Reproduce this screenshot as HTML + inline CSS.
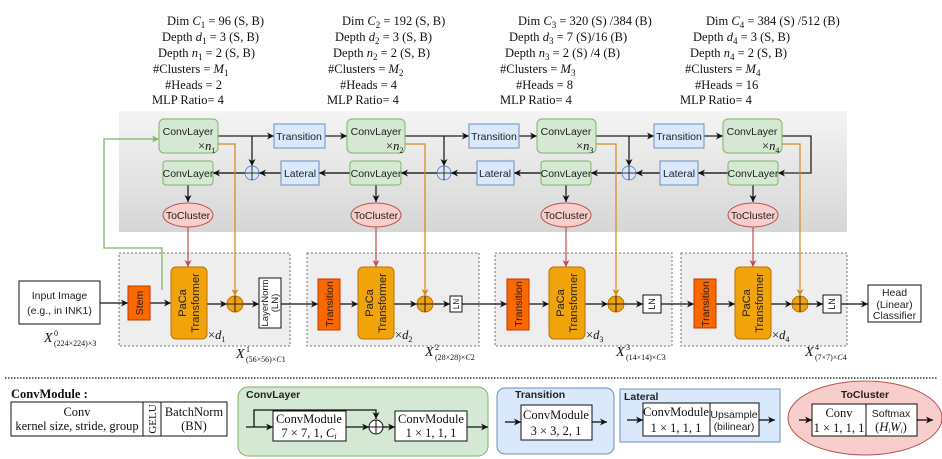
<!DOCTYPE html>
<html><head><meta charset="utf-8"><style>
html,body{margin:0;padding:0;background:#fff;}
svg{display:block;}
.s{font-family:"Liberation Sans",sans-serif;font-size:10.5px;fill:#222;}
.r{font-family:"Liberation Serif",serif;font-size:12.5px;fill:#111;}
.i{font-style:italic;}
</style></head><body>
<svg width="942" height="459" viewBox="0 0 942 459" xmlns="http://www.w3.org/2000/svg">
<defs>
<marker id="a" markerWidth="8" markerHeight="8" refX="7" refY="4" orient="auto" markerUnits="userSpaceOnUse"><path d="M0,0.5 L7,4 L0,7.5 L2,4z" fill="#111"/></marker>
<marker id="ao" markerWidth="8" markerHeight="8" refX="7" refY="4" orient="auto" markerUnits="userSpaceOnUse"><path d="M0,0.5 L7,4 L0,7.5 L2,4z" fill="#d08a1a"/></marker>
<marker id="ar" markerWidth="8" markerHeight="8" refX="7" refY="4" orient="auto" markerUnits="userSpaceOnUse"><path d="M0,0.5 L7,4 L0,7.5 L2,4z" fill="#c05050"/></marker>
<marker id="ag" markerWidth="8" markerHeight="8" refX="7" refY="4" orient="auto" markerUnits="userSpaceOnUse"><path d="M0,0.5 L7,4 L0,7.5 L2,4z" fill="#82b366"/></marker>
<linearGradient id="g" x1="0" y1="0" x2="0" y2="1"><stop offset="0" stop-color="#f4f4f4"/><stop offset="1" stop-color="#d6d6d6"/></linearGradient>
</defs>

<!-- top text -->
<g class="r">
<text x="167" y="25">Dim <tspan class="i">C</tspan><tspan font-size="9" dy="3">1</tspan><tspan dy="-3"> = 96 (S, B)</tspan></text>
<text x="162" y="41">Depth <tspan class="i">d</tspan><tspan font-size="9" dy="3">1</tspan><tspan dy="-3"> = 3 (S, B)</tspan></text>
<text x="158" y="57">Depth <tspan class="i">n</tspan><tspan font-size="9" dy="3">1</tspan><tspan dy="-3"> = 2 (S, B)</tspan></text>
<text x="153" y="73">#Clusters = <tspan class="i">M</tspan><tspan font-size="9" dy="3">1</tspan></text>
<text x="165" y="89">#Heads = 2</text>
<text x="152" y="104">MLP Ratio= 4</text>

<text x="342" y="25">Dim <tspan class="i">C</tspan><tspan font-size="9" dy="3">2</tspan><tspan dy="-3"> = 192 (S, B)</tspan></text>
<text x="335" y="41">Depth <tspan class="i">d</tspan><tspan font-size="9" dy="3">2</tspan><tspan dy="-3"> = 3 (S, B)</tspan></text>
<text x="333" y="57">Depth <tspan class="i">n</tspan><tspan font-size="9" dy="3">2</tspan><tspan dy="-3"> = 2 (S, B)</tspan></text>
<text x="328" y="73">#Clusters = <tspan class="i">M</tspan><tspan font-size="9" dy="3">2</tspan></text>
<text x="340" y="89">#Heads = 4</text>
<text x="327" y="104">MLP Ratio= 4</text>

<text x="518" y="25">Dim <tspan class="i">C</tspan><tspan font-size="9" dy="3">3</tspan><tspan dy="-3"> = 320 (S) /384 (B)</tspan></text>
<text x="509" y="41">Depth <tspan class="i">d</tspan><tspan font-size="9" dy="3">3</tspan><tspan dy="-3"> = 7 (S)/16 (B)</tspan></text>
<text x="505" y="57">Depth <tspan class="i">n</tspan><tspan font-size="9" dy="3">3</tspan><tspan dy="-3"> = 2 (S) /4 (B)</tspan></text>
<text x="500" y="73">#Clusters = <tspan class="i">M</tspan><tspan font-size="9" dy="3">3</tspan></text>
<text x="516" y="89">#Heads = 8</text>
<text x="500" y="104">MLP Ratio= 4</text>

<text x="706" y="25">Dim <tspan class="i">C</tspan><tspan font-size="9" dy="3">4</tspan><tspan dy="-3"> = 384 (S) /512 (B)</tspan></text>
<text x="693" y="41">Depth <tspan class="i">d</tspan><tspan font-size="9" dy="3">4</tspan><tspan dy="-3"> = 3 (S, B)</tspan></text>
<text x="690" y="57">Depth <tspan class="i">n</tspan><tspan font-size="9" dy="3">4</tspan><tspan dy="-3"> = 2 (S, B)</tspan></text>
<text x="685" y="73">#Clusters = <tspan class="i">M</tspan><tspan font-size="9" dy="3">4</tspan></text>
<text x="695" y="89">#Heads = 16</text>
<text x="680" y="104">MLP Ratio= 4</text>
</g>

<!-- gray band -->
<rect x="119" y="111" width="728" height="121" fill="url(#g)"/>

<!-- bottom dashed stage boxes -->
<g fill="#eeeeee" stroke="#777" stroke-dasharray="2,2" stroke-width="1">
<rect x="119" y="253" width="171" height="93"/>
<rect x="307" y="253" width="172" height="93"/>
<rect x="495" y="253" width="177" height="93"/>
<rect x="681" y="253" width="166" height="93"/>
</g>

<!-- top row connectors -->
<g stroke="#222" stroke-width="1.3" fill="none">
<line x1="218" y1="136" x2="274" y2="136" marker-end="url(#a)"/>
<line x1="325" y1="136" x2="347" y2="136" marker-end="url(#a)"/>
<line x1="405" y1="136" x2="469" y2="136" marker-end="url(#a)"/>
<line x1="519" y1="136" x2="537" y2="136" marker-end="url(#a)"/>
<line x1="596" y1="136" x2="654" y2="136" marker-end="url(#a)"/>
<line x1="704" y1="136" x2="723" y2="136" marker-end="url(#a)"/>
<line x1="252" y1="136" x2="252" y2="166" marker-end="url(#a)"/>
<line x1="444" y1="136" x2="444" y2="166" marker-end="url(#a)"/>
<line x1="629" y1="136" x2="629" y2="166" marker-end="url(#a)"/>
<polyline points="782,136 811,136 811,173 778,173" marker-end="url(#a)"/>
</g>
<g stroke="#555" stroke-width="2" fill="none">
<line x1="245" y1="173" x2="213" y2="173" marker-end="url(#a)"/>
<line x1="281" y1="173" x2="259" y2="173" marker-end="url(#a)"/>
<line x1="350" y1="173" x2="319" y2="173" marker-end="url(#a)"/>
<line x1="437" y1="173" x2="401" y2="173" marker-end="url(#a)"/>
<line x1="477" y1="173" x2="451" y2="173" marker-end="url(#a)"/>
<line x1="541" y1="173" x2="514" y2="173" marker-end="url(#a)"/>
<line x1="622" y1="173" x2="591" y2="173" marker-end="url(#a)"/>
<line x1="660" y1="173" x2="636" y2="173" marker-end="url(#a)"/>
<line x1="728" y1="173" x2="698" y2="173" marker-end="url(#a)"/>
</g>
<g stroke="#222" stroke-width="1.3">
<line x1="188" y1="185" x2="188" y2="202" marker-end="url(#a)"/>
<line x1="376" y1="185" x2="376" y2="202" marker-end="url(#a)"/>
<line x1="566" y1="185" x2="566" y2="202" marker-end="url(#a)"/>
<line x1="753" y1="185" x2="753" y2="202" marker-end="url(#a)"/>
</g>

<polyline points="162,290 162,248 104,248 104,139 159,139" fill="none" stroke="#82b366" stroke-width="1.3" marker-end="url(#ag)"/>
<g stroke="#c05050" stroke-width="1.2">
<line x1="188" y1="227" x2="188" y2="267" marker-end="url(#ar)"/>
<line x1="376" y1="227" x2="376" y2="267" marker-end="url(#ar)"/>
<line x1="566" y1="227" x2="566" y2="267" marker-end="url(#ar)"/>
<line x1="753" y1="227" x2="753" y2="267" marker-end="url(#ar)"/>
</g>
<g stroke="#d08a1a" stroke-width="1.2" fill="none">
<polyline points="218,144 235,144 235,296" marker-end="url(#ao)"/>
<polyline points="405,144 425,144 425,296" marker-end="url(#ao)"/>
<polyline points="596,144 616,144 616,296" marker-end="url(#ao)"/>
<polyline points="782,144 800,144 800,296" marker-end="url(#ao)"/>
</g>

<g fill="#d5e8d4" stroke="#82b366" stroke-width="1">
<rect x="159" y="119" width="59" height="34" rx="5"/>
<rect x="347" y="119" width="58" height="34" rx="5"/>
<rect x="537" y="119" width="59" height="34" rx="5"/>
<rect x="723" y="119" width="59" height="34" rx="5"/>
<rect x="163" y="161" width="50" height="24" rx="3"/>
<rect x="350" y="161" width="51" height="24" rx="3"/>
<rect x="541" y="161" width="50" height="24" rx="3"/>
<rect x="728" y="161" width="50" height="24" rx="3"/>
</g>
<g fill="#dae8fc" stroke="#6c8ebf" stroke-width="1">
<rect x="274" y="124" width="51" height="24"/>
<rect x="469" y="124" width="50" height="24"/>
<rect x="654" y="124" width="50" height="24"/>
<rect x="281" y="161" width="38" height="24"/>
<rect x="477" y="161" width="37" height="24"/>
<rect x="660" y="161" width="38" height="24"/>
<circle cx="252" cy="173" r="7"/><circle cx="444" cy="173" r="7"/><circle cx="629" cy="173" r="7"/>
</g>
<g stroke="#333" stroke-width="1">
<path d="M245,173h14M252,166v14"/><path d="M437,173h14M444,166v14"/><path d="M622,173h14M629,166v14"/>
</g>
<g fill="#f8cecc" stroke="#b85450" stroke-width="1">
<ellipse cx="188" cy="215" rx="25" ry="12"/><ellipse cx="376" cy="215" rx="25" ry="12"/>
<ellipse cx="566" cy="215" rx="25" ry="12"/><ellipse cx="753" cy="215" rx="25" ry="12"/>
</g>
<g class="s" text-anchor="middle">
<text x="188" y="135">ConvLayer</text><text x="376" y="135">ConvLayer</text><text x="566" y="135">ConvLayer</text><text x="752" y="135">ConvLayer</text>
<text x="188" y="177">ConvLayer</text><text x="376" y="177">ConvLayer</text><text x="566" y="177">ConvLayer</text><text x="753" y="177">ConvLayer</text>
<text x="299" y="140">Transition</text><text x="494" y="140">Transition</text><text x="679" y="140">Transition</text>
<text x="300" y="177">Lateral</text><text x="495" y="177">Lateral</text><text x="679" y="177">Lateral</text>
<text x="188" y="219">ToCluster</text><text x="376" y="219">ToCluster</text><text x="566" y="219">ToCluster</text><text x="753" y="219">ToCluster</text>
</g>
<g class="r" font-size="12">
<text x="198" y="150">×<tspan class="i">n</tspan><tspan font-size="8" dy="3">1</tspan></text>
<text x="386" y="150">×<tspan class="i">n</tspan><tspan font-size="8" dy="3">2</tspan></text>
<text x="576" y="150">×<tspan class="i">n</tspan><tspan font-size="8" dy="3">3</tspan></text>
<text x="762" y="150">×<tspan class="i">n</tspan><tspan font-size="8" dy="3">4</tspan></text>
</g>

<g stroke="#111" stroke-width="1.3">
<line x1="100" y1="303" x2="128" y2="303" marker-end="url(#a)"/>
<line x1="150" y1="303" x2="171" y2="303" marker-end="url(#a)"/>
<line x1="207" y1="304" x2="227" y2="304" marker-end="url(#a)"/>
<line x1="243" y1="304" x2="259" y2="304" marker-end="url(#a)"/>
<line x1="281" y1="304" x2="318" y2="304" marker-end="url(#a)"/>
<line x1="340" y1="304" x2="358" y2="304" marker-end="url(#a)"/>
<line x1="394" y1="304" x2="417" y2="304" marker-end="url(#a)"/>
<line x1="433" y1="304" x2="450" y2="304" marker-end="url(#a)"/>
<line x1="462" y1="304" x2="507" y2="304" marker-end="url(#a)"/>
<line x1="529" y1="304" x2="549" y2="304" marker-end="url(#a)"/>
<line x1="585" y1="304" x2="608" y2="304" marker-end="url(#a)"/>
<line x1="624" y1="304" x2="643" y2="304" marker-end="url(#a)"/>
<line x1="661" y1="304" x2="694" y2="304" marker-end="url(#a)"/>
<line x1="716" y1="304" x2="735" y2="304" marker-end="url(#a)"/>
<line x1="771" y1="304" x2="792" y2="304" marker-end="url(#a)"/>
<line x1="808" y1="304" x2="823" y2="304" marker-end="url(#a)"/>
<line x1="841" y1="304" x2="868" y2="304" marker-end="url(#a)"/>
</g>
<rect x="19" y="281" width="81" height="43" fill="#fff" stroke="#111"/>
<text class="s" x="59.5" y="299" text-anchor="middle" font-size="11">Input Image</text>
<text class="s" x="59.5" y="314" text-anchor="middle" font-size="11">(e.g., in INK1)</text>
<rect x="868" y="285" width="53" height="37" fill="#fff" stroke="#111"/>
<g class="s" text-anchor="middle" font-size="10"><text x="894.5" y="296">Head</text><text x="894.5" y="308">(Linear)</text><text x="894.5" y="319">Classifier</text></g>

<g fill="#fa6800" stroke="#c73500">
<rect x="128" y="286" width="22" height="34"/>
<rect x="318" y="279" width="22" height="51"/>
<rect x="507" y="279" width="22" height="51"/>
<rect x="694" y="279" width="22" height="49"/>
</g>
<g fill="#f0a30a" stroke="#bd7000">
<rect x="171" y="267" width="36" height="72" rx="5"/>
<rect x="358" y="267" width="36" height="72" rx="5"/>
<rect x="549" y="267" width="36" height="72" rx="5"/>
<rect x="735" y="267" width="36" height="72" rx="5"/>
<circle cx="235" cy="304" r="8"/><circle cx="425" cy="304" r="8"/><circle cx="616" cy="304" r="8"/><circle cx="800" cy="304" r="8"/>
</g>
<g stroke="#222" stroke-width="1"><path d="M227,304h16M235,296v16M417,304h16M425,296v16M608,304h16M616,296v16M792,304h16M800,296v16"/></g>
<g fill="#fff" stroke="#111">
<rect x="259" y="278" width="22" height="50"/>
<rect x="450" y="296" width="12" height="16"/>
<rect x="643" y="295" width="18" height="18"/>
<rect x="823" y="295" width="18" height="18"/>
</g>
<g class="s" font-size="10">
<text transform="translate(143,303) rotate(-90)" text-anchor="middle" fill="#222">Stem</text>
<text transform="translate(333,304) rotate(-90)" text-anchor="middle">Transition</text>
<text transform="translate(522,304) rotate(-90)" text-anchor="middle">Transition</text>
<text transform="translate(709,304) rotate(-90)" text-anchor="middle">Transition</text>
<text transform="translate(188,303) rotate(-90)" text-anchor="middle" font-size="11"><tspan x="0" dy="-2">PaCa</tspan><tspan x="0" dy="13">Transformer</tspan></text>
<text transform="translate(375,303) rotate(-90)" text-anchor="middle" font-size="11"><tspan x="0" dy="-2">PaCa</tspan><tspan x="0" dy="13">Transformer</tspan></text>
<text transform="translate(566,303) rotate(-90)" text-anchor="middle" font-size="11"><tspan x="0" dy="-2">PaCa</tspan><tspan x="0" dy="13">Transformer</tspan></text>
<text transform="translate(752,303) rotate(-90)" text-anchor="middle" font-size="11"><tspan x="0" dy="-2">PaCa</tspan><tspan x="0" dy="13">Transformer</tspan></text>
<text transform="translate(270,303) rotate(-90)" text-anchor="middle" font-size="9.5"><tspan x="0" dy="-2">LayerNorm</tspan><tspan x="0" dy="10">(LN)</tspan></text>
<text transform="translate(459,304) rotate(-90)" text-anchor="middle" font-size="8">LN</text>
<text transform="translate(655,304) rotate(-90)" text-anchor="middle" font-size="9">LN</text>
<text transform="translate(835,304) rotate(-90)" text-anchor="middle" font-size="9">LN</text>
</g>
<g class="r" font-size="12">
<text x="208" y="339">×<tspan class="i">d</tspan><tspan font-size="8" dy="3">1</tspan></text>
<text x="395" y="339">×<tspan class="i">d</tspan><tspan font-size="8" dy="3">2</tspan></text>
<text x="586" y="339">×<tspan class="i">d</tspan><tspan font-size="8" dy="3">3</tspan></text>
<text x="772" y="339">×<tspan class="i">d</tspan><tspan font-size="8" dy="3">4</tspan></text>
<text x="44" y="342" class="i" font-size="14">X</text><text x="54" y="336" font-size="8">0</text><text x="54" y="346" font-size="8">(224×224)×3</text>
<text x="236" y="358" class="i" font-size="14">X</text><text x="246" y="352" font-size="8">1</text><text x="246" y="362" font-size="8">(56×56)×<tspan class="i">C</tspan>1</text>
<text x="425" y="356" class="i" font-size="14">X</text><text x="435" y="350" font-size="8">2</text><text x="435" y="360" font-size="8">(28×28)×<tspan class="i">C</tspan>2</text>
<text x="616" y="356" class="i" font-size="14">X</text><text x="626" y="350" font-size="8">3</text><text x="626" y="360" font-size="8">(14×14)×<tspan class="i">C</tspan>3</text>
<text x="805" y="356" class="i" font-size="14">X</text><text x="815" y="350" font-size="8">4</text><text x="815" y="360" font-size="8">(7×7)×<tspan class="i">C</tspan>4</text>
</g>

<!-- legend -->
<line x1="5" y1="378" x2="937" y2="378" stroke="#333" stroke-width="1.5" stroke-dasharray="1.5,1.5"/>
<text class="r" x="11" y="398" font-weight="bold" font-size="12.5">ConvModule :</text>
<rect x="11" y="402" width="216" height="34" fill="#fff" stroke="#111"/>
<line x1="143" y1="402" x2="143" y2="436" stroke="#111"/><line x1="161" y1="402" x2="161" y2="436" stroke="#111"/>
<g class="r" text-anchor="middle" font-size="11.5">
<text x="77" y="416">Conv</text><text x="77" y="430">kernel size, stride, group</text>
<text x="194" y="416">BatchNorm</text><text x="194" y="430">(BN)</text>
<text transform="translate(156,419) rotate(-90)" font-size="11">GELU</text>
</g>

<rect x="238" y="387" width="250" height="69" rx="10" fill="#d5e8d4" stroke="#82b366"/>
<text class="s" x="246" y="398" font-weight="bold">ConvLayer</text>
<g stroke="#111" stroke-width="1.3" fill="none">
<line x1="246" y1="427" x2="273" y2="427" marker-end="url(#a)"/>
<polyline points="254,427 254,410 376,410 376,419" marker-end="url(#a)"/>
<line x1="346" y1="427" x2="369" y2="427" marker-end="url(#a)"/>
<line x1="383" y1="427" x2="395" y2="427" marker-end="url(#a)"/>
<line x1="467" y1="427" x2="488" y2="427" marker-end="url(#a)"/>
</g>
<circle cx="376" cy="427" r="7" fill="#fff" stroke="#111"/><path d="M369,427h14M376,420v14" stroke="#111"/>
<rect x="273" y="411" width="73" height="30" fill="#fff" stroke="#111"/>
<rect x="395" y="411" width="72" height="30" fill="#fff" stroke="#111"/>
<g class="r" text-anchor="middle" font-size="11.5">
<text x="309" y="423">ConvModule</text><text x="309" y="437">7 × 7, 1, <tspan class="i">C</tspan><tspan font-size="8" class="i" dy="2">i</tspan></text>
<text x="431" y="423">ConvModule</text><text x="431" y="437">1 × 1, 1, 1</text>
</g>

<rect x="497" y="388" width="117" height="66" rx="8" fill="#dae8fc" stroke="#6c8ebf"/>
<text class="s" x="515" y="398" font-weight="bold">Transition</text>
<rect x="521" y="405" width="71" height="35" fill="#fff" stroke="#111"/>
<g class="r" text-anchor="middle" font-size="12"><text x="556" y="419">ConvModule</text><text x="556" y="435">3 × 3, 2, 1</text></g>
<g stroke="#111" stroke-width="1.3"><line x1="505" y1="422" x2="521" y2="422" marker-end="url(#a)"/><line x1="592" y1="422" x2="607" y2="422" marker-end="url(#a)"/></g>

<rect x="620" y="389" width="160" height="53" fill="#dae8fc" stroke="#6c8ebf"/>
<text class="s" x="624" y="400" font-weight="bold">Lateral</text>
<rect x="643" y="403" width="116" height="33" fill="#fff" stroke="#111"/>
<line x1="710" y1="403" x2="710" y2="436" stroke="#111"/>
<g class="r" text-anchor="middle" font-size="12"><text x="676" y="416">ConvModule</text><text x="676" y="432">1 × 1, 1, 1</text></g>
<g class="s" text-anchor="middle" font-size="9.5"><text x="734" y="418">Upsample</text><text x="734" y="430">(bilinear)</text></g>
<g stroke="#111" stroke-width="1.3"><line x1="627" y1="420" x2="643" y2="420" marker-end="url(#a)"/><line x1="759" y1="420" x2="775" y2="420" marker-end="url(#a)"/></g>

<ellipse cx="865" cy="418" rx="77" ry="37" fill="#f8cecc" stroke="#b85450"/>
<text class="s" x="865" y="398" font-weight="bold" text-anchor="middle">ToCluster</text>
<rect x="812" y="404" width="105" height="32" fill="#fff" stroke="#111"/>
<line x1="866" y1="404" x2="866" y2="436" stroke="#111"/>
<g class="r" text-anchor="middle" font-size="12"><text x="839" y="417">Conv</text><text x="839" y="432">1 × 1, 1, 1</text></g>
<g text-anchor="middle"><text class="s" x="891" y="417" font-size="9.5">Softmax</text><text class="r" x="891" y="431" font-size="10">(<tspan class="i">H</tspan><tspan font-size="7" class="i" dy="2">i</tspan><tspan class="i" dy="-2">W</tspan><tspan font-size="7" class="i" dy="2">i</tspan><tspan dy="-2">)</tspan></text></g>
<g stroke="#111" stroke-width="1.3"><line x1="799" y1="420" x2="812" y2="420" marker-end="url(#a)"/><line x1="917" y1="420" x2="933" y2="420" marker-end="url(#a)"/></g>
</svg>
</body></html>
